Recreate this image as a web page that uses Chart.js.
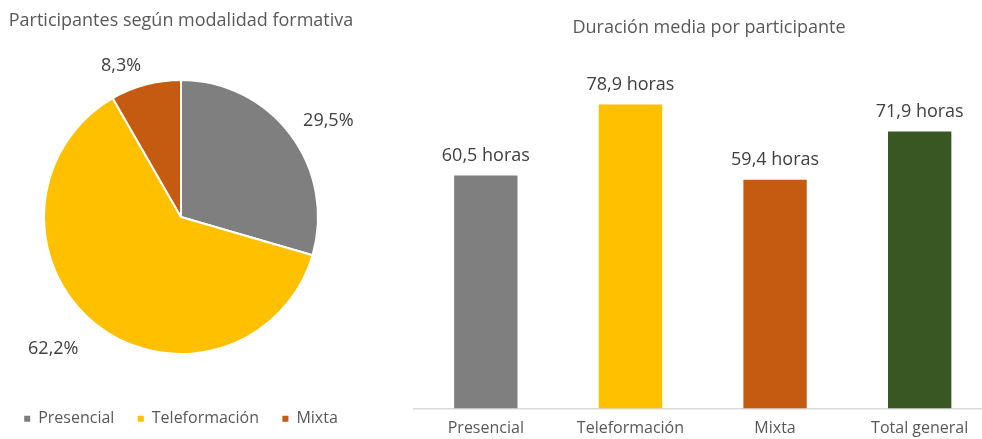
<!DOCTYPE html>
<html lang="es">
<head>
<meta charset="utf-8">
<title>Participantes y duración media por modalidad formativa</title>
<script src="https://cdn.jsdelivr.net/npm/chart.js@4.4.1/dist/chart.umd.min.js"></script>
<style>
  html, body { margin: 0; padding: 0; background: #ffffff; width: 982px; height: 439px; overflow: hidden; position: relative; }
  #pie  { position: absolute; left: -20px; top: 0; }
  #bars { position: absolute; left: 380px; top: 0; }
</style>
</head>
<body>
<canvas id="pie" width="402" height="439"></canvas>
<canvas id="bars" width="620" height="439"></canvas>
<script>
// Participantes según modalidad formativa (% del total)
const modalidades = ['Presencial', 'Teleformación', 'Mixta'];
const participantesPct = [29.5, 62.2, 8.3];

// Duración media por participante (horas)
const categoriasDuracion = ['Presencial', 'Teleformación', 'Mixta', 'Total general'];
const horasMedias = [60.5, 78.9, 59.4, 71.9];

// Paleta
const coloresModalidad = ['#7f7f7f', '#ffc000', '#c55a11'];
const coloresDuracion = ['#7f7f7f', '#ffc000', '#c55a11', '#385723'];

Chart.defaults.font.family = '"Open Sans", "Noto Sans", sans-serif';

// Spanish decimal comma
const fmt = v => v.toFixed(1).replace('.', ',');

// Chart heading drawn at a fixed spot of the canvas
const caption = {
  id: 'caption',
  afterDraw(chart, args, opts) {
    const ctx = chart.ctx;
    ctx.save();
    ctx.font = '18px ' + Chart.defaults.font.family;
    ctx.fillStyle = '#595959';
    ctx.textAlign = 'center';
    ctx.textBaseline = 'middle';
    ctx.fillText(opts.text, opts.x, opts.y);
    ctx.restore();
  }
};

// Percentage labels outside each slice
const pieLabels = {
  id: 'pieLabels',
  afterDatasetsDraw(chart, args, opts) {
    const ctx = chart.ctx;
    const meta = chart.getDatasetMeta(0);
    const values = chart.data.datasets[0].data;
    ctx.save();
    ctx.font = '18px ' + Chart.defaults.font.family;
    ctx.fillStyle = '#404040';
    ctx.textAlign = 'center';
    ctx.textBaseline = 'middle';
    meta.data.forEach((arc, i) => {
      const p = arc.getProps(['x', 'y', 'startAngle', 'endAngle', 'outerRadius'], true);
      const mid = (p.startAngle + p.endAngle) / 2;
      const dx = Math.cos(mid), dy = Math.sin(mid);
      const text = fmt(values[i]) + '%';
      const w = ctx.measureText(text).width, h = 18;
      const r = p.outerRadius + opts.gap;
      const n = opts.nudge[i] || [0, 0];
      ctx.fillText(text, p.x + dx * (r + w / 2) + n[0], p.y + dy * (r + h / 2) + n[1]);
    });
    ctx.restore();
  }
};

// Value labels above each bar
const barLabels = {
  id: 'barLabels',
  afterDatasetsDraw(chart, args, opts) {
    const ctx = chart.ctx;
    const meta = chart.getDatasetMeta(0);
    const values = chart.data.datasets[0].data;
    ctx.save();
    ctx.font = '18px ' + Chart.defaults.font.family;
    ctx.fillStyle = '#404040';
    ctx.textAlign = 'center';
    ctx.textBaseline = 'middle';
    meta.data.forEach((bar, i) => {
      ctx.fillText(fmt(values[i]) + ' horas', bar.x, bar.y - opts.offset);
    });
    ctx.restore();
  }
};

new Chart(document.getElementById('pie'), {
  type: 'pie',
  data: {
    labels: modalidades,
    datasets: [{
      data: participantesPct,
      backgroundColor: coloresModalidad,
      borderColor: '#ffffff',
      borderWidth: 2,
      radius: 137
    }]
  },
  options: {
    responsive: false,
    animation: false,
    events: [],
    layout: { padding: { top: 46.7, bottom: 2.3, left: 0, right: 0 } },
    plugins: {
      legend: {
        position: 'bottom',
        labels: {
          boxWidth: 6,
          boxHeight: 6,
          padding: 23.4,
          color: '#595959',
          font: { size: 16 },
          generateLabels: chart =>
            Chart.overrides.doughnut.plugins.legend.labels.generateLabels(chart)
              .map(item => Object.assign(item, { lineWidth: 0 }))
        }
      },
      tooltip: { enabled: false },
      caption: { text: 'Participantes según modalidad formativa', x: 201, y: 21 },
      pieLabels: { gap: 17, nudge: [[4, 2], [-17, 4], [-15, 6]] }
    }
  },
  plugins: [caption, pieLabels]
});

new Chart(document.getElementById('bars'), {
  type: 'bar',
  data: {
    labels: categoriasDuracion,
    datasets: [{
      data: horasMedias,
      backgroundColor: coloresDuracion,
      barPercentage: 0.438,
      categoryPercentage: 1
    }]
  },
  options: {
    responsive: false,
    animation: false,
    events: [],
    layout: { padding: { left: 33.5, right: 8, top: 61.8, bottom: -9.4 } },
    scales: {
      x: {
        grid: { display: false, drawTicks: false },
        border: { display: true, color: '#d9d9d9', width: 1.5 },
        ticks: { color: '#595959', font: { size: 16 }, padding: 10.4, maxRotation: 0, autoSkip: false }
      },
      y: { display: false, min: 0, max: 90 }
    },
    plugins: {
      legend: { display: false },
      tooltip: { enabled: false },
      caption: { text: 'Duración media por participante', x: 329, y: 28 },
      barLabels: { offset: 20 }
    }
  },
  plugins: [caption, barLabels]
});
</script>
</body>
</html>
